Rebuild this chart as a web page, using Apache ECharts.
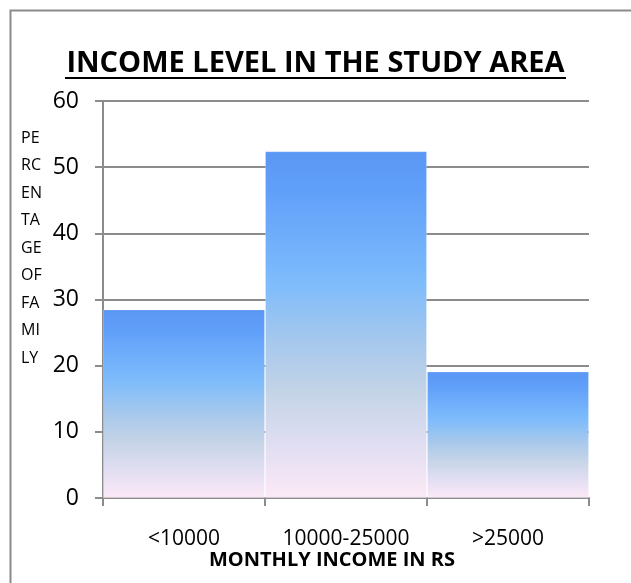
<!DOCTYPE html>
<html>
<head>
<meta charset="utf-8">
<script src="https://cdn.jsdelivr.net/npm/echarts@6/dist/echarts.min.js"></script>
<style>
  html, body { margin: 0; padding: 0; background: #fff; }
  #chart { width: 631px; height: 583px; }
</style>
</head>
<body>
<div id="chart"></div>
<script>
// Income groups and share of families (%) in each group
const categories = ['<10000', '10000-25000', '>25000'];
const percentages = [28.5, 52.4, 19.1];
const yTicks = { min: 0, max: 60, interval: 10 };
const titleText = 'INCOME LEVEL IN THE STUDY AREA';
const xAxisTitle = 'MONTHLY INCOME IN RS';
const yAxisTitle = 'PE\nRC\nEN\nTA\nGE\nOF\nFA\nMI\nLY';

const FONT = '"Open Sans", sans-serif';
const GREY = '#8c8c8c';

const barFill = new echarts.graphic.LinearGradient(0, 0, 0, 1, [
  { offset: 0.0, color: '#5b97f4' },
  { offset: 0.1, color: '#5f9ef9' },
  { offset: 0.38, color: '#7ebcfc' },
  { offset: 0.55, color: '#a6c8ec' },
  { offset: 0.7, color: '#c5d4e7' },
  { offset: 0.85, color: '#e1def2' },
  { offset: 1.0, color: '#fce9f7' }
]);

const chart = echarts.init(document.getElementById('chart'), null, { renderer: 'canvas' });

chart.setOption({
  animation: false,
  backgroundColor: '#ffffff',
  grid: { left: 103, right: 42, top: 101, bottom: 85, containLabel: false },
  graphic: [
    // frame around the chart area (left and top edges visible)
    {
      type: 'rect', left: 8, top: 8,
      shape: { width: 640, height: 600 },
      style: { fill: 'none', stroke: '#8a8a8a', lineWidth: 2 },
      z: 0
    },
    // title
    {
      type: 'text',
      style: { text: titleText, x: 315.5, y: 64, align: 'center', verticalAlign: 'middle',
               font: 'bold 29px ' + FONT, fill: '#000' }
    },
    // title underline
    {
      type: 'line',
      shape: { x1: 65, y1: 78, x2: 566, y2: 78 },
      style: { stroke: '#000', lineWidth: 2 }
    },
    // vertical axis caption, broken into short lines
    {
      type: 'text',
      style: { text: yAxisTitle, x: 21, y: 248, align: 'left', verticalAlign: 'middle',
               font: '16px ' + FONT, fill: '#000', lineHeight: 27.5 }
    },
    // horizontal axis caption
    {
      type: 'text',
      style: { text: xAxisTitle, x: 332, y: 560, align: 'center', verticalAlign: 'middle',
               font: 'bold 20px ' + FONT, fill: '#000' }
    }
  ],
  xAxis: {
    type: 'category',
    data: categories,
    axisLine: { lineStyle: { color: GREY, width: 2 } },
    axisTick: { show: true, length: 8, lineStyle: { color: GREY, width: 2 } },
    axisLabel: { color: '#000', fontSize: 21, fontFamily: FONT, margin: 31,
                 interval: 0, hideOverlap: false },
    splitLine: { show: false }
  },
  yAxis: {
    type: 'value',
    min: yTicks.min, max: yTicks.max, interval: yTicks.interval,
    axisLine: { show: true, lineStyle: { color: GREY, width: 2 } },
    axisTick: { show: true, length: 8, lineStyle: { color: GREY, width: 2 } },
    axisLabel: { color: '#000', fontSize: 23, fontFamily: FONT, margin: 24 },
    splitLine: { show: true, lineStyle: { color: GREY, width: 2 } }
  },
  series: [{
    type: 'bar',
    data: percentages,
    barCategoryGap: '0%',
    itemStyle: {
      color: barFill,
      borderColor: 'rgba(255,255,255,0.2)',
      borderWidth: 1
    }
  }]
});
</script>
</body>
</html>
